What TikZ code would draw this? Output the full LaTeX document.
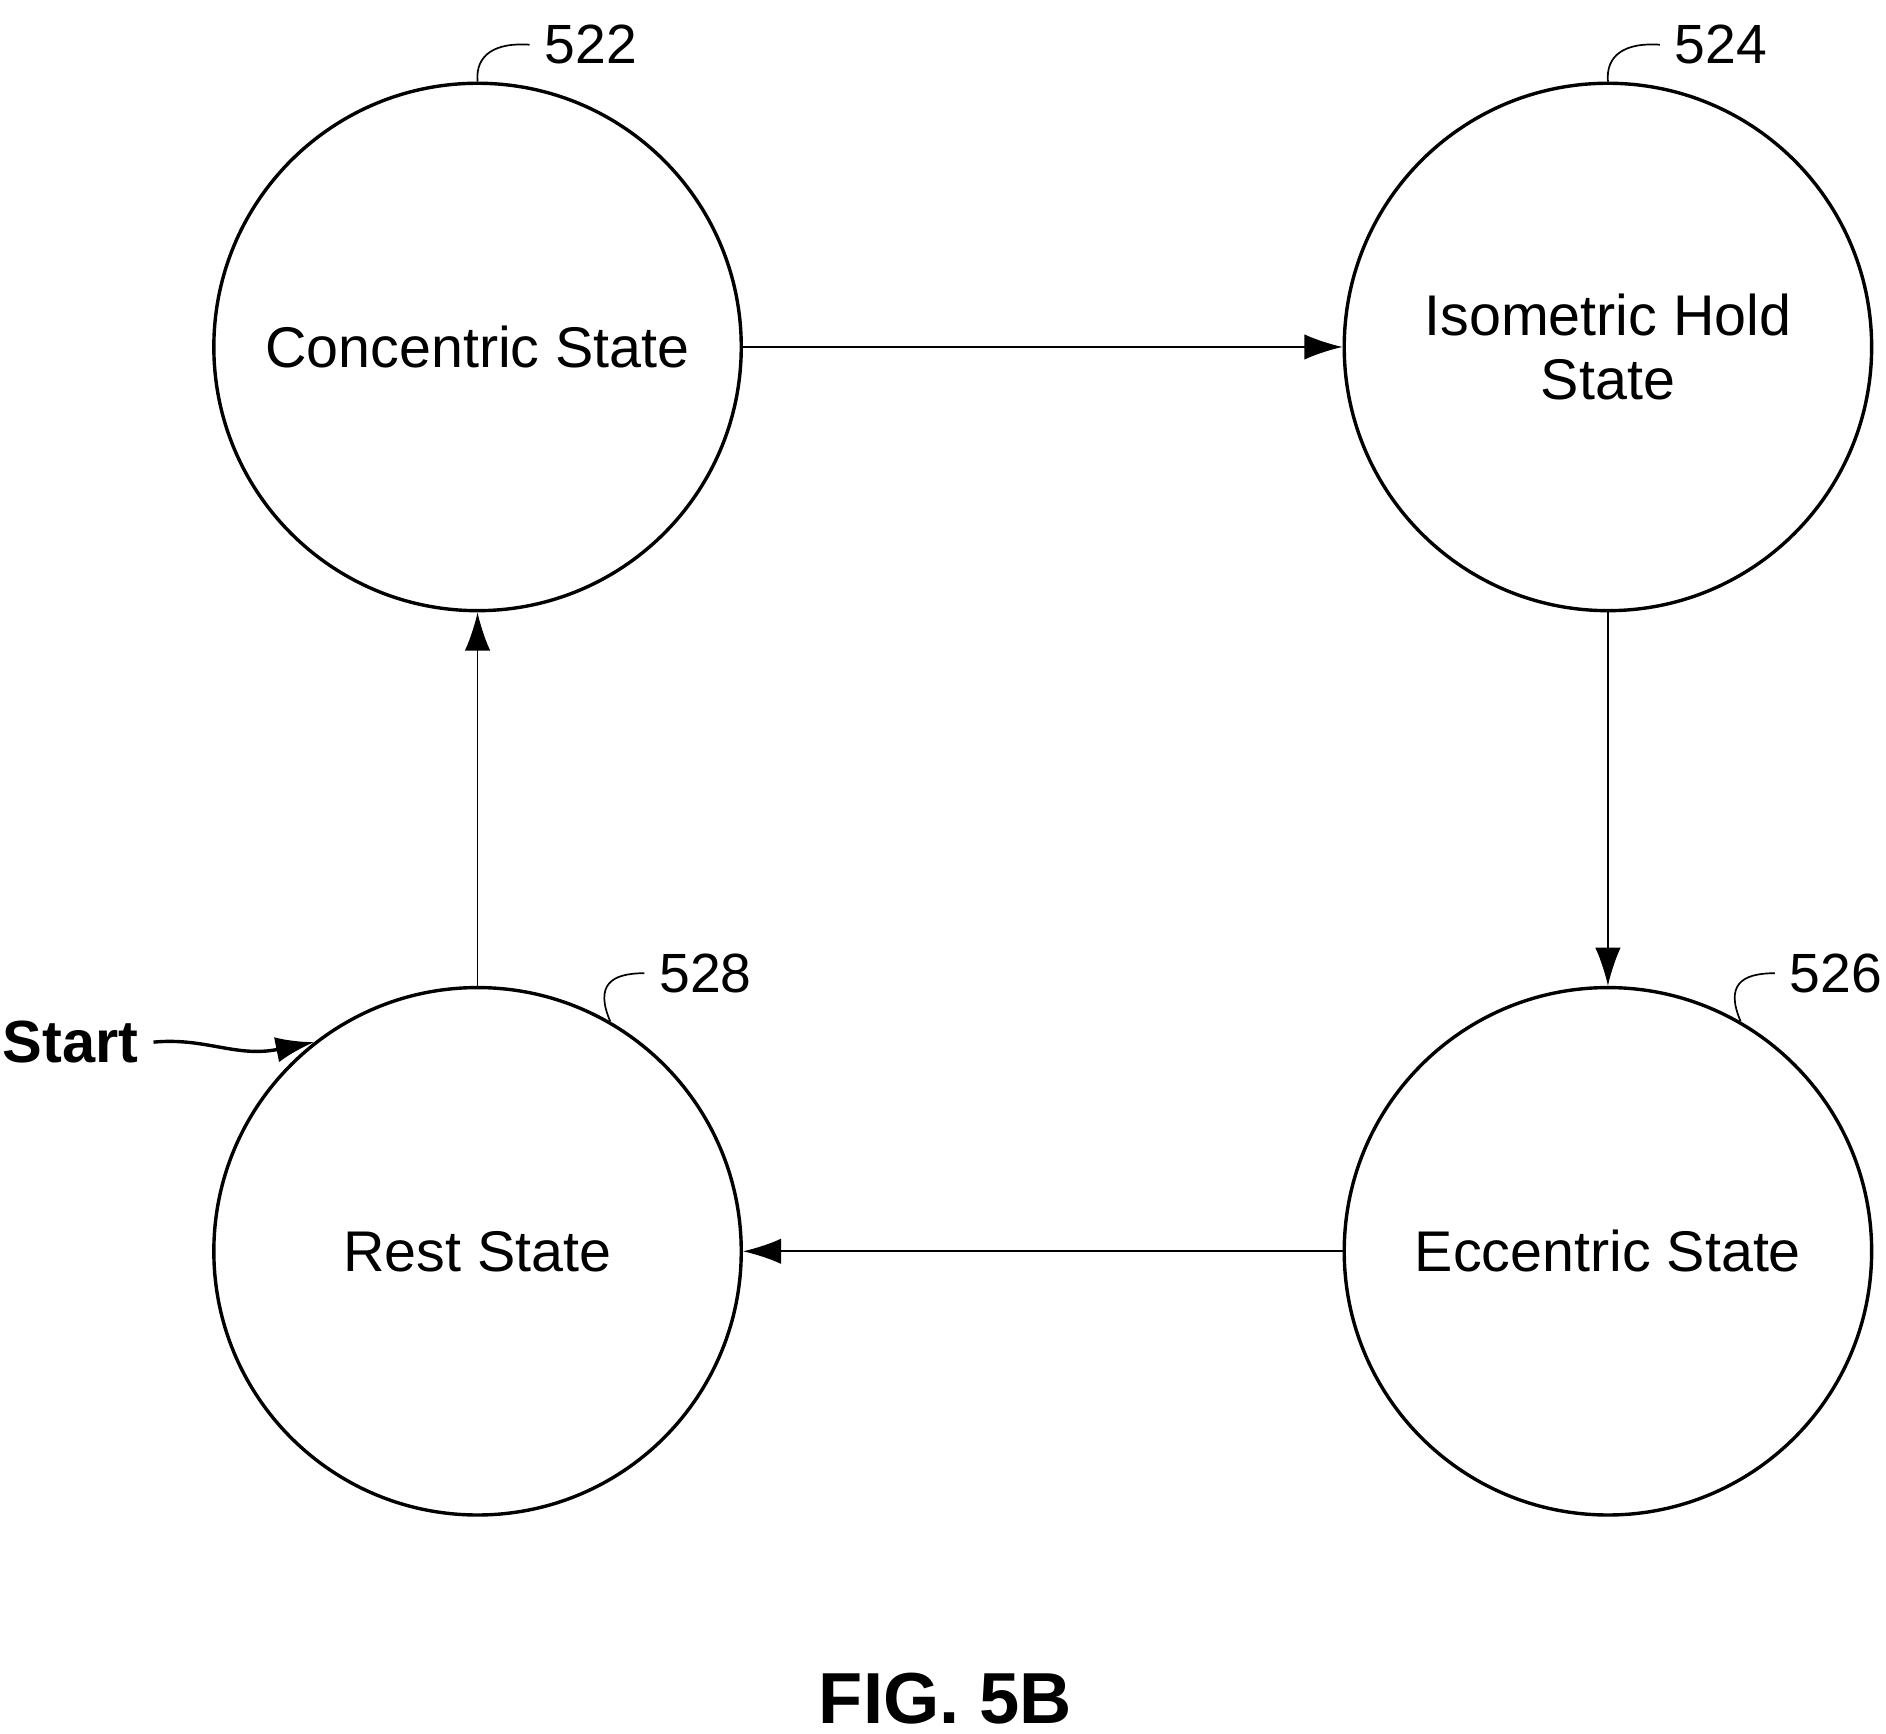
\documentclass[tikz,border=0pt]{standalone}
\usepackage{fontspec}
\setmainfont{Liberation Sans}
\usetikzlibrary{arrows.meta}
\begin{document}
\begin{tikzpicture}[x=0.01cm,y=-0.01cm,
  state/.style={circle,draw,thick,minimum size=4.36cm,align=center,font=\fontsize{13.5}{15}\selectfont},
  trans/.style={-{Latex[length=9pt,width=6pt]}},
  refnum/.style={font=\fontsize{13}{15}\selectfont}]
\useasboundingbox (0,0) rectangle (1560,1434);

% states
\node[state] (conc) at (395,287) {Concentric State};
\node[state] (iso)  at (1330,287) {Isometric Hold\\State};
\node[state] (ecc)  at (1330,1035) {Eccentric State};
\node[state] (rest) at (395,1035) {Rest State};

% transitions
\draw[trans] (conc) -- (iso);
\draw[trans] (iso) -- (ecc);
\draw[trans] (ecc) -- (rest);
\draw[trans] (rest) -- (conc);

% reference numbers
\node[refnum,anchor=west] (n522) at (438,37) {522};
\draw (conc.north) .. controls (393,45) and (410,35) .. (n522.west);
\node[refnum,anchor=west] (n524) at (1373,37) {524};
\draw (iso.north) .. controls (1328,45) and (1345,35) .. (n524.west);
\node[refnum,anchor=west] (n528) at (533,805) {528};
\draw (rest.60) .. controls (492,815) and (505,805) .. (n528.west);
\node[refnum,anchor=west] (n526) at (1468,805) {526};
\draw (ecc.60) .. controls (1427,815) and (1440,805) .. (n526.west);

% start
\node[font=\fontsize{14}{16}\selectfont\bfseries,anchor=east] (start) at (127,862) {Start};
\draw[trans,thick] (start.east) .. controls (170,858) and (195,875) .. (rest.128);

\node[font=\fontsize{17}{20}\selectfont\bfseries] (fig) at (782,1405) {FIG. 5B};
\end{tikzpicture}
\end{document}
